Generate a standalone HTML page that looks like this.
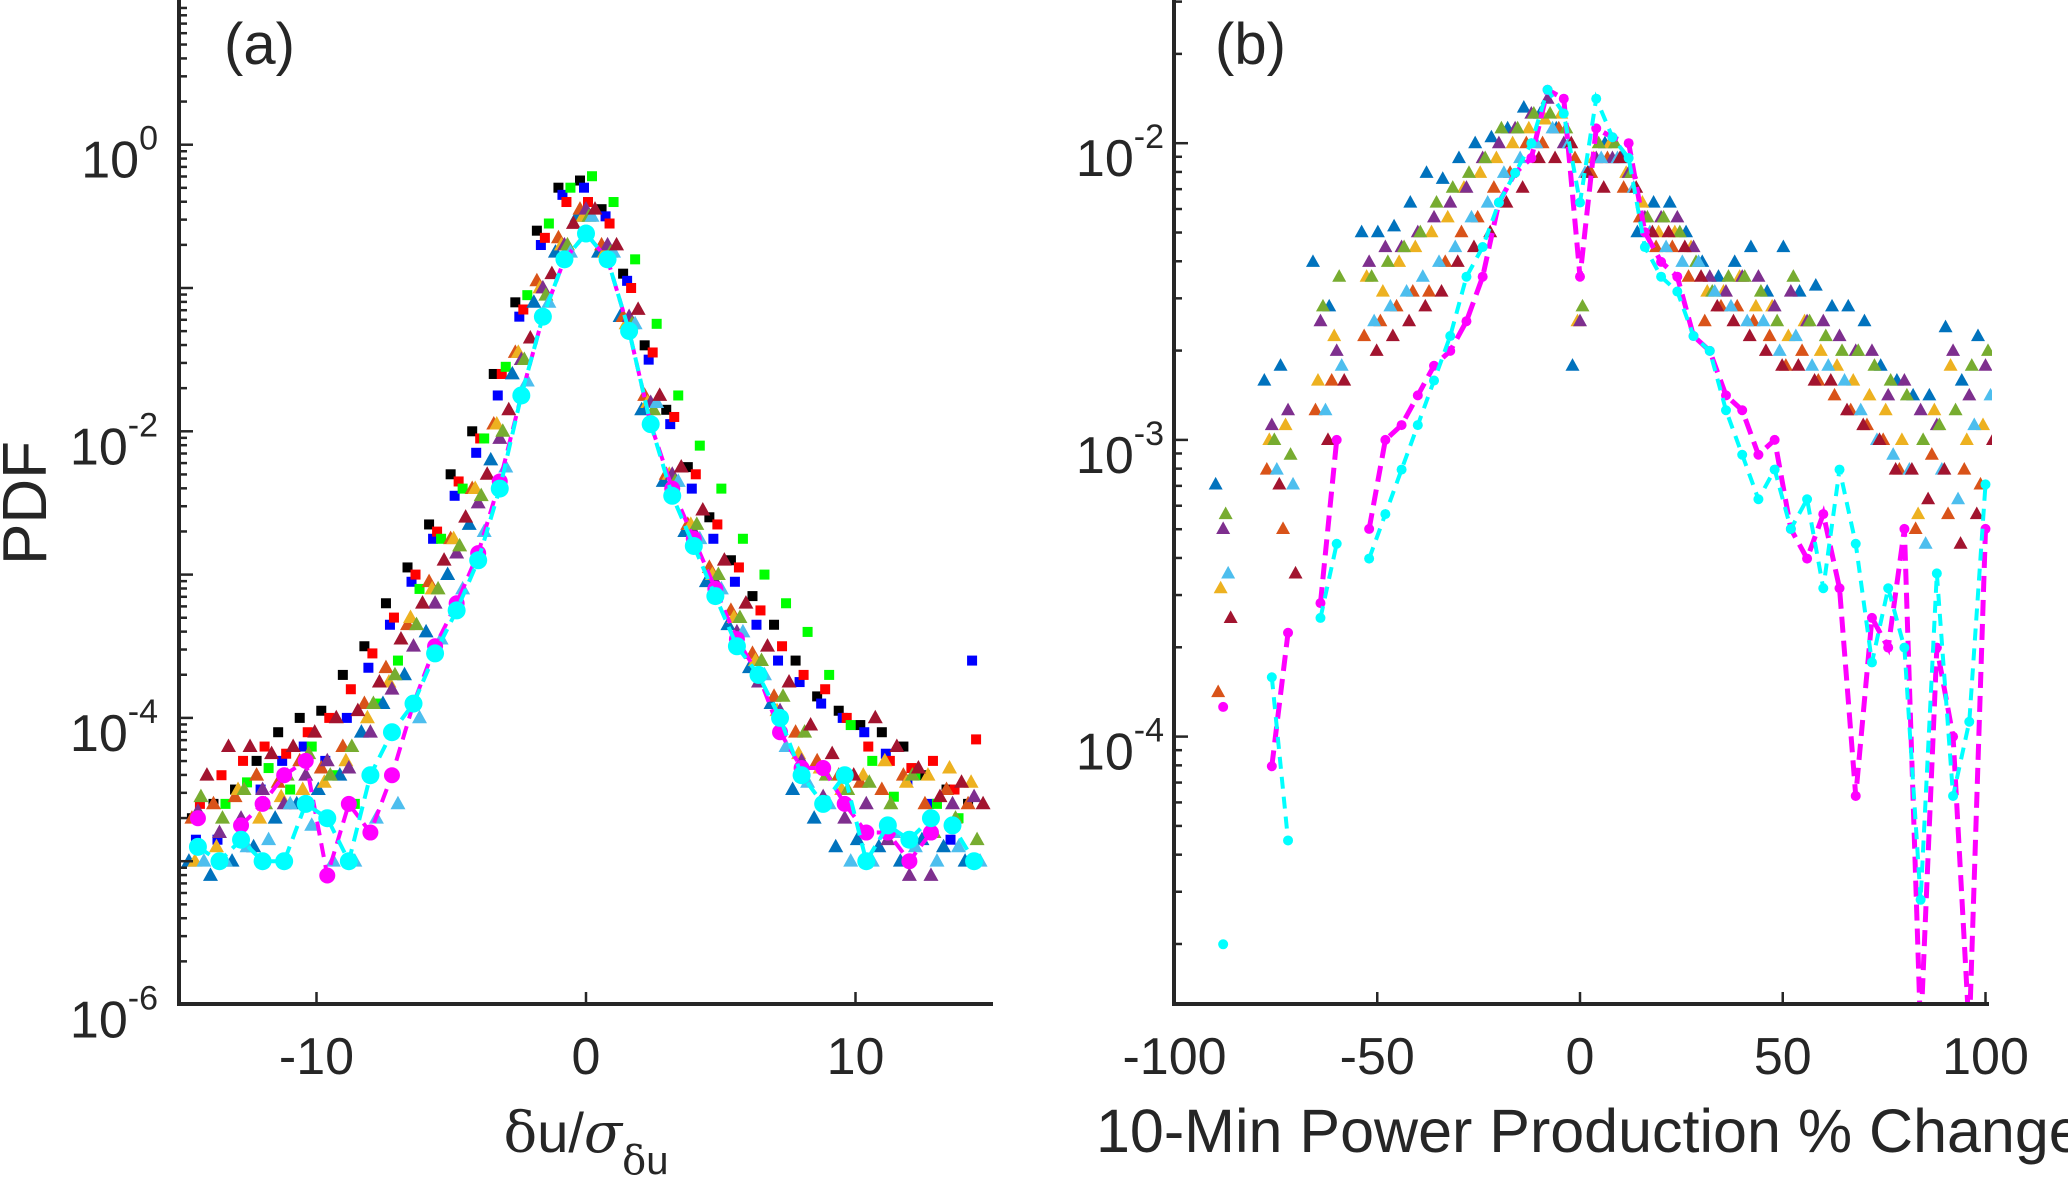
<!DOCTYPE html>
<html><head><meta charset="utf-8"><style>body{margin:0;background:#fff}svg{display:block}text{font-family:"Liberation Sans",Arial,sans-serif;fill:#262626}</style></head>
<body>
<svg id="fig" width="2068" height="1182" viewBox="0 0 2068 1182" xmlns="http://www.w3.org/2000/svg">
<defs>
<clipPath id="ca"><rect x="179" y="0" width="816" height="1006"/></clipPath>
<clipPath id="cb"><rect x="1172" y="0" width="820" height="1004"/></clipPath>
</defs>
<g id="ga" clip-path="url(#ca)"></g>
<g id="gb" clip-path="url(#cb)"></g>
<g id="axes"></g>
<text x="224" y="64" font-size="58">(a)</text>
<text x="1215" y="64" font-size="58">(b)</text>
<text transform="translate(46,503) rotate(-90)" text-anchor="middle" font-size="62">PDF</text>
<text x="586" y="1152" text-anchor="middle" font-size="56"><tspan font-family="DejaVu Serif,serif">δ</tspan>u/<tspan font-family="DejaVu Serif,serif" font-style="italic">σ</tspan><tspan dy="22" font-size="40"><tspan font-family="DejaVu Serif,serif">δ</tspan>u</tspan></text>
<text x="1096" y="1152" font-size="61">10-Min Power Production % Change</text>
</svg>
<script>
// Panel a data (log10 PDF)
const xa = [-14.4,-13.6,-12.8,-12,-11.2,-10.4,-9.6,-8.8,-8,-7.2,-6.4,-5.6,-4.8,-4,-3.2,-2.4,-1.6,-0.8,0,0.8,1.6,2.4,3.2,4,4.8,5.6,6.4,7.2,8,8.8,9.6,10.4,11.2,12,12.8,13.6,14.4];
const aBlack = [-4.7,-4.6,-4.5,-4.3,-4.1,-4.0,-3.95,-3.7,-3.5,-3.2,-2.95,-2.65,-2.3,-2.0,-1.6,-1.1,-0.6,-0.3,-0.25,-0.45,-0.9,-1.4,-1.85,-2.25,-2.6,-2.9,-3.15,-3.35,-3.6,-3.85,-3.95,-4.05,-4.1,-4.2,-4.4,-4.5,-4.6];
const aBlue = [-4.85,-4.85,-4.85,-4.5,-4.3,-4.2,-4.3,-4.0,-3.65,-3.35,-3.05,-2.75,-2.45,-2.15,-1.75,-1.2,-0.7,-0.35,-0.3,-0.5,-0.95,-1.5,-1.95,-2.4,-2.75,-3.05,-3.35,-3.6,-3.75,-3.9,-4.0,-4.1,-4.25,-4.45,-4.6,-4.85,-3.6];
const aRed = [-4.6,-4.4,-4.3,-4.2,-4.25,-4.1,-4.0,-3.8,-3.55,-3.3,-3.0,-2.7,-2.35,-2.05,-1.6,-1.15,-0.65,-0.4,-0.4,-0.55,-1.0,-1.45,-1.9,-2.3,-2.65,-2.95,-3.25,-3.5,-3.7,-3.8,-4.0,-4.2,-4.3,-4.35,-4.3,-4.5,-4.15];
const aGreen = [null,-4.6,-4.45,-4.35,-4.5,-4.2,-4.4,-4.6,-3.9,-3.6,-3.1,-2.75,-2.4,-2.05,-1.55,-1.05,-0.55,-0.3,-0.22,-0.4,-0.8,-1.25,-1.75,-2.1,-2.4,-2.75,-3.0,-3.2,-3.4,-3.7,-4.05,-4.3,-4.55,-4.4,-4.6,-4.7,null];
const aT1 = [-5.0,-5.1,-5.0,-4.9,-4.7,-4.6,-4.5,-4.4,-4.1,-3.9,-3.7,-3.4,-3.0,-2.65,-2.2,-1.6,-1.1,-0.75,-0.5,-0.75,-1.2,-1.85,-2.35,-2.7,-3.05,-3.35,-3.65,-3.9,-4.5,-4.7,-4.9,-4.85,-4.9,-5.0,-4.85,-4.9,-5.0];
const aT2 = [-4.7,-4.6,-4.55,-4.4,-4.45,-4.3,-4.35,-4.2,-3.9,-3.65,-3.35,-3.05,-2.75,-2.4,-1.95,-1.45,-0.95,-0.65,-0.45,-0.7,-1.2,-1.75,-2.3,-2.65,-2.95,-3.25,-3.55,-3.85,-4.1,-4.3,-4.4,-4.45,-4.5,-4.4,-4.6,-4.5,-4.6];
const aT3 = [-5.0,-4.9,-4.5,-4.7,-4.55,-4.5,-4.45,-4.3,-4.0,-3.75,-3.3,-3.1,-2.75,-2.4,-1.95,-1.45,-1.0,-0.7,-0.5,-0.75,-1.25,-1.8,-2.3,-2.65,-3.0,-3.3,-3.6,-3.95,-4.25,-4.35,-4.5,-4.4,-4.3,-4.45,-4.4,-4.35,-4.45];
const aT4 = [-4.65,-4.8,-4.7,-4.5,-4.6,-4.4,-4.3,-4.35,-4.1,-3.8,-3.5,-3.2,-2.85,-2.5,-2.05,-1.5,-1.0,-0.7,-0.45,-0.7,-1.2,-1.8,-2.3,-2.7,-3.05,-3.4,-3.75,-3.95,-4.3,-4.55,-4.7,-4.6,-4.85,-5.1,-5.1,-4.6,-4.55];
const aT5 = [-4.55,-4.7,-4.5,-4.6,-4.4,-4.25,-4.4,-4.2,-3.9,-3.7,-3.35,-3.1,-2.8,-2.45,-2.0,-1.5,-1.05,-0.7,-0.5,-0.75,-1.25,-1.85,-2.35,-2.65,-3.0,-3.3,-3.6,-3.85,-4.1,-4.4,-4.5,-4.45,-4.6,-4.4,-4.8,-4.7,-4.85];
const aT6 = [-5.0,-5.0,-4.9,-4.85,-4.6,-4.75,-5.0,-5.0,-4.7,-4.6,-4.0,-3.45,-3.1,-2.7,-2.25,-1.65,-1.1,-0.75,-0.5,-0.75,-1.25,-1.8,-2.35,-2.75,-3.1,-3.4,-3.7,-4.2,-4.45,-4.6,-5.0,-5.0,-4.8,-4.9,-5.0,-4.9,-5.0];
const aT7 = [-4.4,-4.2,-4.2,-4.25,-4.2,-4.1,-4.0,-3.95,-3.75,-3.45,-3.2,-2.9,-2.6,-2.3,-1.85,-1.35,-0.9,-0.55,-0.45,-0.7,-1.15,-1.75,-2.25,-2.55,-2.9,-3.2,-3.5,-3.75,-4.05,-4.25,-4.4,-4.0,-4.2,-4.35,-4.55,-4.45,-4.6];
const aMagenta = [-4.7,null,-4.75,-4.6,-4.4,-4.3,-5.1,-4.6,-4.8,-4.4,-3.9,-3.5,-3.2,-2.85,-2.35,-1.75,-1.2,-0.8,-0.62,-0.8,-1.3,-1.95,-2.4,-2.75,-3.1,-3.45,-3.7,-4.1,-4.35,-4.35,-4.6,-4.8,-4.8,-5.0,-4.8,null,null];
const aCyan = [-4.9,-5.0,-4.85,-5.0,-5.0,-4.6,-4.7,-5.0,-4.4,-4.1,-3.9,-3.55,-3.25,-2.9,-2.4,-1.75,-1.2,-0.8,-0.62,-0.8,-1.3,-1.95,-2.45,-2.8,-3.15,-3.5,-3.7,-4.0,-4.4,-4.6,-4.4,-5.0,-4.75,-4.85,-4.7,-4.75,-5.0];
const aXTicks = [-10,0,10];
const aYTicks = [0,-2,-4,-6];

// Panel b data (log10 PDF)
const xb = [-88,-84,-80,-76,-72,-68,-64,-60,-56,-52,-48,-44,-40,-36,-32,-28,-24,-20,-16,-12,-8,-4,0,4,8,12,16,20,24,28,32,36,40,44,48,52,56,60,64,68,72,76,80,84,88,92,96,100];
const bT1 = [-3.15,null,null,-2.8,-2.75,null,-2.4,-2.55,null,-2.3,-2.3,-2.28,-2.2,-2.1,-2.12,-2.05,-2.0,-1.98,-1.95,-1.88,-1.9,-1.95,-2.75,-2.1,-2.0,-2.05,-2.3,-2.2,-2.2,-2.3,-2.4,-2.45,-2.4,-2.35,-2.5,-2.35,-2.5,-2.48,-2.55,-2.55,-2.6,-2.75,-2.8,-2.85,-2.85,-2.62,-2.8,-2.65];
const bT2 = [-3.85,null,null,-3.1,-3.3,null,-2.9,-2.8,null,-2.65,-2.6,-2.55,-2.5,-2.5,-2.4,-2.3,-2.25,-2.15,-2.1,-2.0,-2.0,-1.95,-2.05,-2.1,-2.05,-2.15,-2.25,-2.35,-2.35,-2.45,-2.6,-2.55,-2.55,-2.6,-2.65,-2.75,-2.7,-2.8,-2.85,-2.9,-2.95,-3.0,-3.1,-3.3,-3.05,-3.25,-3.1,-3.15];
const bT3 = [-3.5,null,null,-3.0,-2.95,null,-2.8,-2.65,null,-2.45,-2.5,-2.4,-2.35,-2.3,-2.25,-2.15,-2.1,-2.05,-2.0,-1.95,-1.92,-1.9,-2.6,-2.05,-2.0,-2.1,-2.2,-2.3,-2.3,-2.35,-2.5,-2.5,-2.45,-2.55,-2.55,-2.65,-2.6,-2.7,-2.75,-2.8,-2.85,-2.9,-3.0,-3.25,-2.9,-2.75,-3.0,-2.95];
const bT4 = [-3.3,null,null,-2.95,-2.9,null,-2.6,-2.7,null,-2.4,-2.35,-2.35,-2.3,-2.25,-2.2,-2.15,-2.05,-2.0,-1.95,-1.9,-1.85,-2.0,-2.6,-2.05,-2.05,-2.1,-2.25,-2.25,-2.25,-2.35,-2.45,-2.5,-2.45,-2.45,-2.55,-2.5,-2.6,-2.6,-2.65,-2.7,-2.7,-2.85,-2.8,-2.9,-2.95,-2.7,-2.85,-2.75];
const bT5 = [-3.25,null,null,-3.0,-3.05,null,-2.55,-2.45,null,-2.45,-2.4,-2.35,-2.3,-2.2,-2.15,-2.1,-2.05,-1.95,-1.95,-1.9,-1.9,-1.95,-2.55,-2.0,-2.0,-2.1,-2.25,-2.25,-2.3,-2.4,-2.5,-2.45,-2.45,-2.5,-2.6,-2.45,-2.6,-2.65,-2.7,-2.7,-2.75,-2.8,-2.85,-3.0,-2.95,-2.9,-2.75,-2.7];
const bT6 = [-3.45,null,null,-3.1,-3.15,null,-2.9,-2.75,null,-2.6,-2.55,-2.5,-2.45,-2.4,-2.35,-2.25,-2.2,-2.1,-2.05,-2.0,-1.95,-2.0,-2.1,-2.05,-2.05,-2.15,-2.3,-2.35,-2.4,-2.4,-2.5,-2.55,-2.6,-2.6,-2.7,-2.65,-2.75,-2.75,-2.8,-2.9,-3.0,-3.05,-3.1,-3.35,-3.1,-3.2,-2.95,-2.85];
const bT7 = [-3.6,null,null,-3.15,-3.45,null,-3.0,-2.8,null,-2.7,-2.65,-2.6,-2.55,-2.5,-2.4,-2.35,-2.3,-2.2,-2.15,-2.05,-2.05,-2.0,-2.1,-2.15,-2.05,-2.15,-2.3,-2.3,-2.35,-2.45,-2.55,-2.6,-2.65,-2.7,-2.75,-2.75,-2.8,-2.8,-2.9,-2.95,-3.0,-3.1,-3.1,-3.2,-3.1,-3.35,-3.25,-3.0];
const bMagenta = [-3.9,null,null,-4.1,-3.65,null,-3.55,-3.0,null,-3.3,-3.0,-2.95,-2.85,-2.75,-2.7,-2.6,-2.45,-2.2,-2.1,-2.05,-1.82,-1.85,-2.45,-1.95,-1.98,-2.0,-2.3,-2.4,-2.45,-2.65,-2.7,-2.85,-2.9,-3.05,-3.0,-3.3,-3.4,-3.25,-3.5,-4.2,-3.6,-3.7,-3.3,-5.0,-3.7,-4.0,-5.0,-3.3];
const bCyan = [-4.7,null,null,-3.8,-4.35,null,-3.6,-3.35,null,-3.4,-3.25,-3.1,-2.95,-2.8,-2.65,-2.45,-2.35,-2.2,-2.1,-2.0,-1.82,-1.9,-2.2,-1.85,-1.98,-2.05,-2.35,-2.45,-2.5,-2.65,-2.7,-2.9,-3.05,-3.2,-3.1,-3.3,-3.2,-3.5,-3.1,-3.35,-3.75,-3.5,-3.7,-4.55,-3.45,-4.2,-3.95,-3.15];
const bXTicks = [-100,-50,0,50,100];
const bYTicks = [-2,-3,-4];

const NS = 'http://www.w3.org/2000/svg';
function mk(tag, attrs, parent){const e=document.createElementNS(NS,tag);for(const k in attrs)e.setAttribute(k,attrs[k]);parent.appendChild(e);return e;}
const ax = x => 586 + x*26.95, ay = l => 144.7 - l*143.3;
const bx = x => 1580 + x*4.055, by = l => 143.2 - (l+2)*296.7;
const ga=document.getElementById('ga'), gb=document.getElementById('gb'), gx=document.getElementById('axes');

function square(g,x,y,s,c){const e=mk('rect',{x:x-s/2,y:y-s/2,width:s,height:s,fill:c},g);

}
function tri(g,x,y,s,c){const h=s*0.9;const e=mk('polygon',{points:`${x},${y-h*0.6} ${x-s/2},${y+h*0.4} ${x+s/2},${y+h*0.4}`,fill:c},g);

}
function circ(g,x,y,r,c){const e=mk('circle',{cx:x,cy:y,r:r,fill:c},g);

}
function line(g,xs,vals,fx,fy,c,w,dash){let d='',pen=false;xs.forEach((x,i)=>{const v=vals[i];if(v===null){pen=false;return;}d+=(pen?'L':'M')+fx(x)+','+fy(v);pen=true;});
const e=mk('path',{d:d,fill:'none',stroke:c,'stroke-width':w,'stroke-dasharray':dash},g);

}
const triCols=['#0072BD','#D95319','#EDB120','#7E2F8E','#77AC30','#4DBEEE','#A2142F'];

// Panel a
[[aBlack,'#000'],[aBlue,'#0000ff'],[aRed,'#ff0000'],[aGreen,'#00ff00']].forEach(([s,c],k)=>{
  s.forEach((v,i)=>{if(v!==null)square(ga,ax(xa[i])+(k-1.5)*4,ay(v),10,c);});});
[aT1,aT2,aT3,aT4,aT5,aT6,aT7].forEach((s,k)=>{s.forEach((v,i)=>{if(v!==null)tri(ga,ax(xa[i])+(k-3)*3,ay(v),15,triCols[k]);});});
line(ga,xa,aMagenta,ax,ay,'#ff00ff',4,'14 8');
aMagenta.forEach((v,i)=>{if(v!==null)circ(ga,ax(xa[i]),ay(v),8,'#ff00ff');});
line(ga,xa,aCyan,ax,ay,'#00ffff',4,'14 8');
aCyan.forEach((v,i)=>{if(v!==null)circ(ga,ax(xa[i]),ay(v),9,'#00ffff');});

// Panel b
[bT1,bT2,bT3,bT4,bT5,bT6,bT7].forEach((s,k)=>{s.forEach((v,i)=>{if(v!==null)tri(gb,bx(xb[i])+(k-3)*2.5,by(v),14,triCols[k]);});});
line(gb,xb,bMagenta,bx,by,'#ff00ff',5,'16 8');
bMagenta.forEach((v,i)=>{if(v!==null)circ(gb,bx(xb[i]),by(v),5,'#ff00ff');});
line(gb,xb,bCyan,bx,by,'#00ffff',4,'12 8');
bCyan.forEach((v,i)=>{if(v!==null)circ(gb,bx(xb[i]),by(v),5,'#00ffff');});

// Axes
function axisLines(x0,x1,yb){
  let e=mk('line',{x1:x0,y1:0,x2:x0,y2:yb,stroke:'#262626','stroke-width':4},gx);
  
  
  e=mk('line',{x1:x0-2,y1:yb,x2:x1,y2:yb,stroke:'#262626','stroke-width':4},gx);
  
  
}
axisLines(179,993,1004);
axisLines(1174,1989,1004);
function ytick(x0,py,len){const e=mk('line',{x1:x0,y1:py,x2:x0+len,y2:py,stroke:'#262626','stroke-width':2.5},gx);

}
function xtick(px,yb){const e=mk('line',{x1:px,y1:yb,x2:px,y2:yb-12,stroke:'#262626','stroke-width':2.5},gx);

}
function ylabel(xr,py,exp){const t=mk('text',{x:xr,y:py+33,'text-anchor':'end','font-size':52},gx);


t.innerHTML='10<tspan dy="-28" font-size="34">'+exp+'</tspan>';}
function xlabel(px,txt){const t=mk('text',{x:px,y:1074,'text-anchor':'middle','font-size':52},gx);


t.textContent=txt;}
for(let d=-6;d<=0;d++){for(let m=1;m<=9;m++){const l=d+Math.log10(m);const py=ay(l);if(py<0||py>1004)continue;ytick(179,py,m===1?14:8);}}
aYTicks.forEach(l=>ylabel(158,ay(l),String(l)));
aXTicks.forEach(x=>{xtick(ax(x),1004);xlabel(ax(x),String(x));});
for(let d=-5;d<=-2;d++){for(let m=1;m<=9;m++){const l=d+Math.log10(m);const py=by(l);if(py<0||py>1004)continue;ytick(1174,py,m===1?14:8);}}
bYTicks.forEach(l=>ylabel(1164,by(l),String(l)));
bXTicks.forEach(x=>{xtick(bx(x),1004);xlabel(bx(x),String(x));});
</script>
</body></html>
